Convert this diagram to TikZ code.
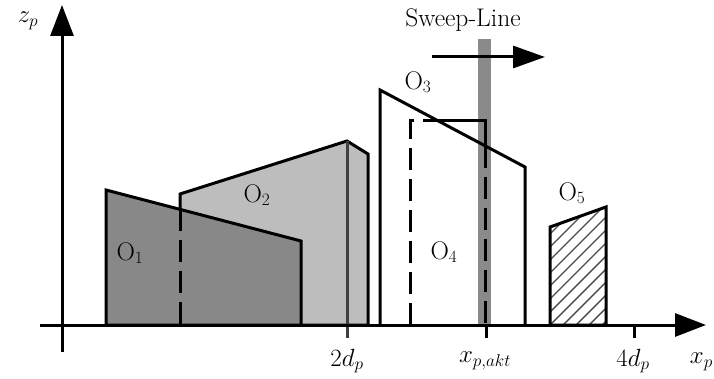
\documentclass[tikz,border=0pt]{standalone}
\usepackage{xcolor}
\usepackage{tikz}
\usetikzlibrary{arrows.meta}

\definecolor{darkobj}{HTML}{888888}
\definecolor{lightobj}{HTML}{BDBDBD}
\definecolor{sweepgray}{HTML}{8A8A8A}

\begin{document}
\begin{tikzpicture}[
  x=1pt, y=-1pt,
  every node/.style={font=\fontsize{25.5}{30}\selectfont, inner sep=0pt},
  obj/.style={draw, line width=3pt, line join=miter},
  hidden/.style={line width=3pt, dash pattern=on 22pt off 9pt},
  axis/.style={line width=3pt, -{Triangle[length=31pt,width=23pt]}},
  tick/.style={line width=3pt}
]
\useasboundingbox (0,0) rectangle (714,379);

% objects behind the sweep line
\draw[obj, fill=lightobj] (180,325) -- (180,194) -- (347,141) -- (368,154) -- (368,325) -- cycle;
\draw[line width=3pt, black!75] (347,141) -- (347,338);
\draw[obj, fill=darkobj] (106,325) -- (106,190) -- (301,241) -- (301,325) -- cycle;
\draw[hidden] (180,209) -- (180,325);

% O3 with the sweep bar over its fill
\fill[white] (380,325) -- (380,90) -- (525,167) -- (525,325) -- cycle;
\fill[sweepgray] (478,39) rectangle (491,325);
\draw[obj] (380,325) -- (380,90) -- (525,167) -- (525,325);

% O4, partly hidden by O3
\draw[hidden] (410,325) -- (410,121) -- (438,121);
\draw[line width=3pt] (438,121) -- (485,121) -- (485,146);
\draw[hidden] (485,146) -- (485,325);

% O5, hatched
\begin{scope}
  \clip (550,325) -- (550,227) -- (606,207) -- (606,325) -- cycle;
  \foreach \s in {420,433,...,620}
    \draw[black!70, line width=1.4pt] (\s,325) -- (\s+130,195);
\end{scope}
\draw[obj] (550,325) -- (550,227) -- (606,207) -- (606,325) -- cycle;

% axes
\coordinate (xstart) at (40,325);
\coordinate (xend) at (706,325);
\coordinate (zstart) at (62,352);
\coordinate (zend) at (62,5);
\draw[axis] (xstart) -- (xend);
\draw[axis] (zstart) -- (zend);
\draw[tick] (486,325) -- (486,338);
\draw[tick] (634,325) -- (634,338);

\node (zlab) at (28,21) {$z_p$};
\node[anchor=east] (xlab) at (713,362) {$x_p$};
\node (twodp) at (347,361) {$2d_p$};
\node (xakt) at (485,361) {$x_{p,akt}$};
\node (fourdp) at (633,361) {$4d_p$};

\node (o1) at (130,253) {O$_1$};
\node (o2) at (257,195) {O$_2$};
\node (o3) at (418,82) {O$_3$};
\node (o4) at (444,252) {O$_4$};
\node (o5) at (572,193) {O$_5$};

% sweep line
\node (sweep) at (463,20) {Sweep-Line};
\coordinate (sweepa) at (432,57);
\coordinate (sweepb) at (545,57);
\draw[line width=3pt, -{Triangle[length=32pt,width=22pt]}] (sweepa) -- (sweepb);
\end{tikzpicture}
\end{document}
